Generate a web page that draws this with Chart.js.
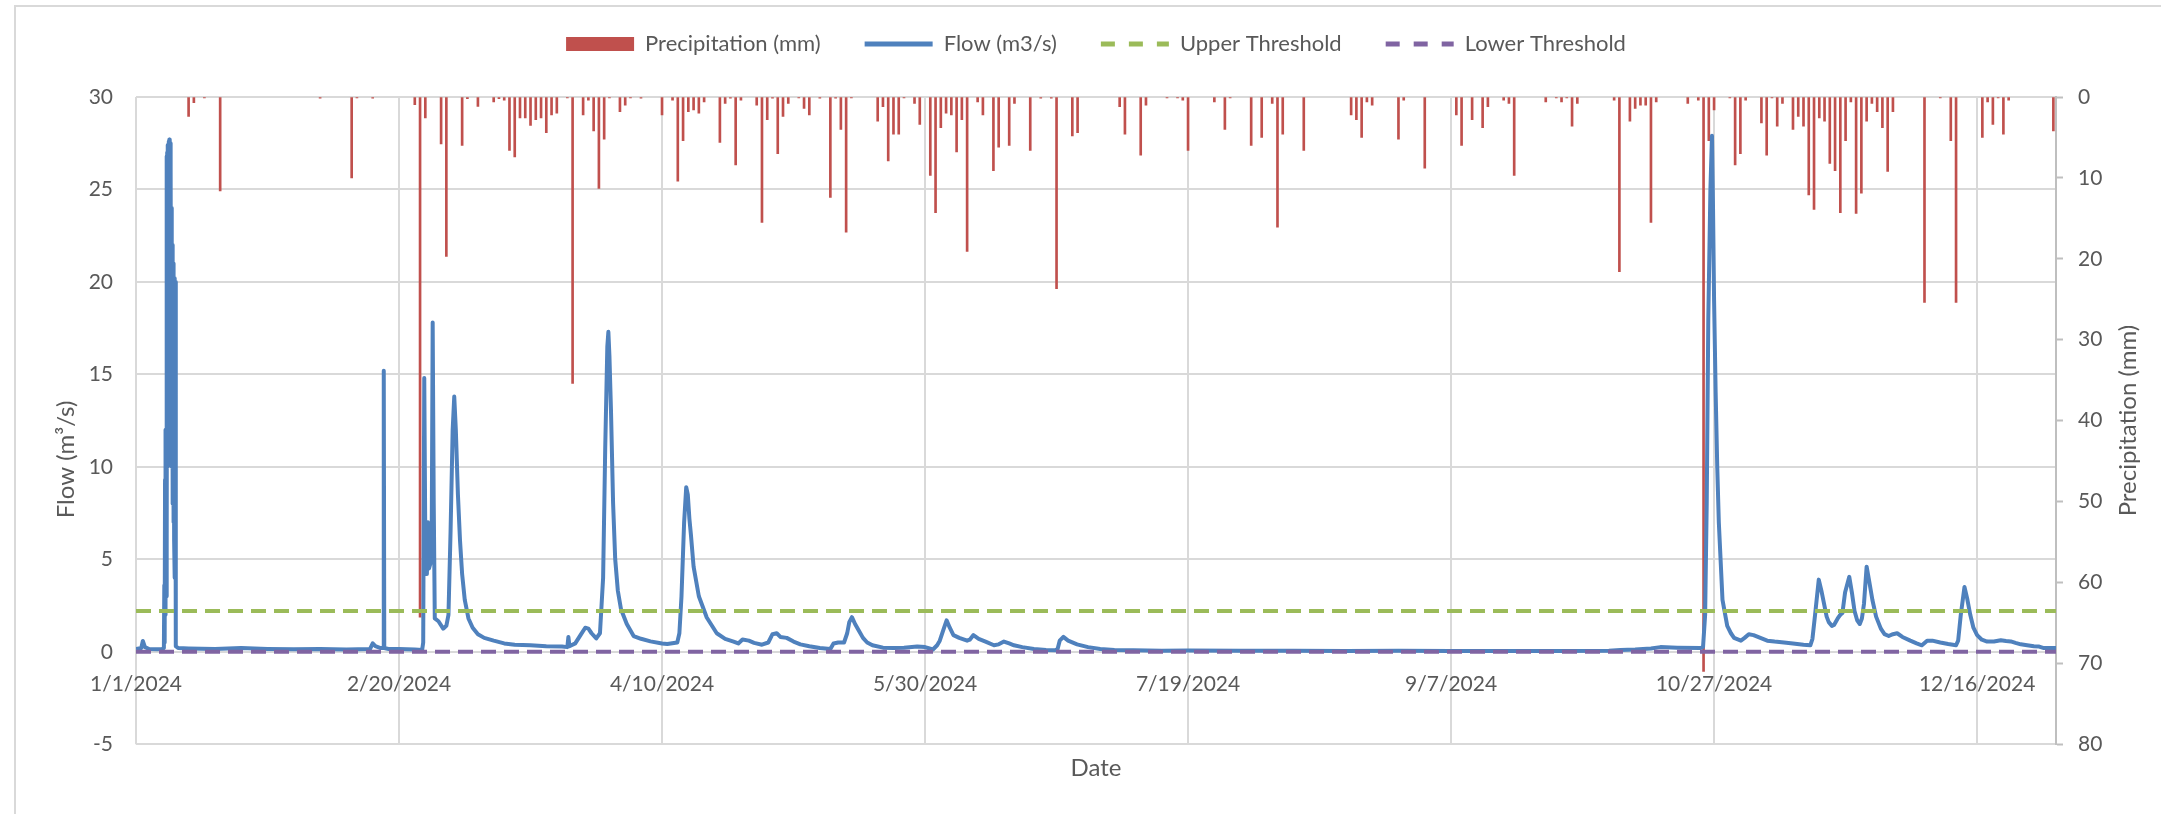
<!DOCTYPE html>
<html lang="en">
<head>
    <meta charset="UTF-8">
    <title>Flow and Precipitation 2024</title>
    <script src="https://cdn.jsdelivr.net/npm/chart.js"></script>
    <style>
        body {
            margin: 0;
            background-color: #ffffff;
            overflow: hidden;
        }

        .frame {
            position: absolute;
            left: 14px;
            top: 5px;
            width: 3000px;
            height: 3000px;
            border: 2px solid #d9d9d9;
        }

        #chart {
            position: absolute;
            left: 0;
            top: 0;
        }
    </style>
</head>
<body>
    <div class="frame"></div>
    <canvas id="chart" width="2161" height="814"></canvas>

    <script>
        // x values are days since 1/1/2024
        const xTickDays = [0, 50, 100, 150, 200, 250, 300, 350];
        const xTickLabels = ['1/1/2024', '2/20/2024', '4/10/2024', '5/30/2024', '7/19/2024', '9/7/2024', '10/27/2024', '12/16/2024'];

        // daily precipitation, [day, mm]
        const precipitation = [
            [10, 2.4], [11, 0.7], [13, 0.1], [16, 11.6], [35, 0.15], [41, 10.0], [42, 0.1], [45, 0.15],
            [53, 0.95], [54, 64.3], [55, 2.6], [58, 5.8], [59, 19.7], [62, 6.0], [63, 0.2], [65, 1.15],
            [68, 0.6], [69, 0.2], [70, 0.4], [71, 6.6], [72, 7.4], [73, 2.6], [74, 2.6], [75, 3.5],
            [76, 2.8], [77, 2.6], [78, 4.4], [79, 2.2], [80, 2.0], [82, 0.1], [83, 35.4], [85, 2.2],
            [86, 0.4], [87, 4.2], [88, 11.3], [89, 5.2], [90, 0.1], [92, 1.8], [93, 1.0], [94, 0.1],
            [96, 0.15], [100, 2.2], [102, 0.4], [103, 10.4], [104, 5.4], [105, 1.8], [106, 1.6], [107, 2.0],
            [108, 0.6], [111, 5.6], [112, 0.8], [113, 0.15], [114, 8.4], [115, 0.4], [118, 1.0], [119, 15.5],
            [120, 2.8], [121, 0.15], [122, 7.0], [123, 2.4], [124, 0.8], [126, 0.1], [127, 1.4], [128, 2.2],
            [130, 0.15], [132, 12.4], [133, 0.15], [134, 4.0], [135, 16.7], [136, 0.1], [141, 3.0], [142, 1.2],
            [143, 7.9], [144, 4.6], [145, 4.6], [146, 0.1], [148, 0.8], [149, 3.4], [151, 9.7], [152, 14.3],
            [153, 3.8], [154, 2.0], [155, 2.2], [156, 6.8], [157, 2.8], [158, 19.1], [160, 0.6], [161, 2.2],
            [163, 9.1], [164, 6.2], [166, 6.0], [167, 0.8], [170, 6.6], [172, 0.15], [174, 0.15], [175, 23.7],
            [178, 4.8], [179, 4.4], [187, 1.2], [188, 4.6], [191, 7.2], [192, 1.0], [196, 0.1], [198, 0.1],
            [199, 0.4], [200, 6.6], [205, 0.6], [207, 4.0], [208, 0.1], [212, 6.0], [214, 5.0], [216, 0.8],
            [217, 16.1], [218, 4.6], [222, 6.6], [231, 2.2], [232, 2.8], [233, 5.0], [234, 0.6], [235, 1.0],
            [240, 5.2], [241, 0.4], [245, 8.8], [251, 2.2], [252, 6.0], [254, 2.8], [256, 3.8], [257, 1.2],
            [260, 0.4], [261, 0.8], [262, 9.7], [268, 0.6], [270, 0.1], [271, 0.6], [272, 0.1], [273, 3.6],
            [274, 0.8], [281, 0.4], [282, 21.6], [284, 3.0], [285, 1.4], [286, 1.0], [287, 1.0], [288, 15.5],
            [289, 0.6], [295, 0.8], [297, 0.4], [298, 71.0], [299, 5.4], [300, 1.6], [303, 0.1], [304, 8.4],
            [305, 7.0], [306, 0.4], [309, 3.2], [310, 7.2], [311, 0.1], [312, 3.6], [313, 0.8], [315, 4.0],
            [316, 2.4], [317, 3.6], [318, 12.1], [319, 13.9], [320, 2.6], [321, 3.0], [322, 8.2], [323, 9.1],
            [324, 14.3], [325, 5.4], [326, 0.6], [327, 14.4], [328, 11.9], [329, 3.0], [330, 0.8], [331, 1.8],
            [332, 3.8], [333, 9.2], [334, 1.8], [340, 25.4], [343, 0.1], [345, 5.4], [346, 25.4], [351, 5.0],
            [352, 0.6], [353, 3.4], [354, 0.1], [355, 4.6], [356, 0.4], [364.5, 4.2]
        ];

        // flow readings, [day, m3/s]
        const flow = [
            [0, 0.15], [1, 0.2], [1.3, 0.58], [1.7, 0.25], [2.5, 0.15], [4, 0.13], [5, 0.15], [5.3, 0.2],
            [5.38, 3.6], [5.45, 0.5], [5.52, 9.3], [5.58, 2], [5.65, 12], [5.72, 3], [5.8, 26.8], [5.87, 6],
            [5.93, 27], [6.0, 10], [6.07, 27.4], [6.14, 12], [6.2, 27.6], [6.27, 15], [6.34, 27.7], [6.41, 16],
            [6.48, 27.5], [6.55, 14], [6.62, 26], [6.69, 12], [6.76, 24], [6.83, 10], [6.9, 22], [6.97, 8],
            [7.04, 21], [7.11, 7], [7.18, 20.3], [7.25, 6], [7.32, 20.2], [7.39, 4], [7.46, 20], [7.53, 2],
            [7.6, 0.3], [8, 0.2], [10, 0.18], [15, 0.15], [20, 0.2], [25, 0.15],
            [30, 0.13], [35, 0.15], [40, 0.12], [44.5, 0.15], [45, 0.45], [45.5, 0.3], [46.5, 0.2], [47, 0.2],
            [47.1, 15.2], [47.2, 0.2], [48, 0.15], [50, 0.15], [53, 0.12], [54.4, 0.1], [54.6, 0.5], [54.8, 14.8],
            [55, 6], [55.3, 4.2], [55.5, 7], [55.7, 4.5], [56.2, 5], [56.4, 17.8], [56.6, 8], [56.8, 1.8],
            [57.5, 1.65], [58.4, 1.25], [59, 1.4], [59.4, 2], [59.8, 6.5], [60.2, 12], [60.5, 13.8], [60.8, 12],
            [61.2, 8.5], [61.6, 6], [62, 4.2], [62.5, 2.8], [63.2, 1.8], [64, 1.3], [65, 0.95], [66.2, 0.75],
            [68, 0.6], [70, 0.45], [72, 0.38], [75, 0.35], [78, 0.3], [81, 0.28], [82, 0.25], [82.2, 0.8],
            [82.4, 0.3], [83.5, 0.45], [84.5, 0.9], [85.4, 1.3], [86, 1.25], [86.6, 1], [87.5, 0.72], [88.2, 1],
            [88.8, 4], [89.2, 11], [89.6, 16.5], [89.8, 17.3], [90, 16], [90.3, 13], [90.7, 8], [91.1, 5],
            [91.6, 3.3], [92.2, 2.3], [93.3, 1.5], [94.6, 0.85], [96, 0.7], [97.8, 0.56], [100, 0.45], [101, 0.42],
            [102.9, 0.5], [103.3, 1], [103.7, 3], [104.2, 7], [104.6, 8.9], [104.9, 8.5], [105.2, 7.2], [105.5, 6.3],
            [106, 4.6], [107, 3], [108.5, 1.85], [110.4, 1], [112, 0.7], [113.6, 0.55], [114.5, 0.45], [115.3, 0.66],
            [116.5, 0.6], [117.5, 0.48], [119, 0.38], [120.2, 0.5], [121, 0.95], [121.8, 1], [122.5, 0.8], [123.7, 0.75],
            [125, 0.55], [126.3, 0.4], [128, 0.3], [130, 0.2], [132, 0.15], [132.6, 0.45], [133.5, 0.5], [134.6, 0.5],
            [135.2, 1], [135.6, 1.6], [136.1, 1.87], [136.7, 1.5], [137.4, 1.15], [138.2, 0.75], [139, 0.5], [140, 0.35],
            [142, 0.22], [144, 0.2], [146, 0.22], [148.5, 0.28], [150, 0.25], [151.5, 0.12], [152.3, 0.35], [152.8, 0.6],
            [153.5, 1.2], [154.1, 1.7], [154.7, 1.3], [155.4, 0.9], [156.5, 0.75], [158, 0.6], [158.5, 0.65], [159.2, 0.9],
            [160.2, 0.7], [161.5, 0.55], [163.1, 0.35], [164, 0.4], [165, 0.55], [166, 0.45], [166.9, 0.35], [168.5, 0.25],
            [170.7, 0.15], [173, 0.1], [174.8, 0.08], [175.2, 0.15], [175.6, 0.6], [176.3, 0.8], [177.2, 0.6], [178.9, 0.4],
            [181, 0.25], [183.3, 0.15], [186, 0.1], [189.6, 0.08], [195, 0.06], [200, 0.07], [210, 0.05], [220, 0.05],
            [230, 0.04], [240, 0.05], [250, 0.04], [260, 0.04], [270, 0.04], [280, 0.06], [282.2, 0.1], [285, 0.12],
            [288, 0.18], [289.8, 0.25], [293, 0.22], [297.4, 0.2], [297.9, 0.25], [298.3, 2], [298.6, 8], [298.9, 18],
            [299.3, 25], [299.6, 27.9], [299.8, 24], [300, 19], [300.3, 14], [300.6, 10], [300.9, 7], [301.2, 5.2],
            [301.6, 2.8], [302.5, 1.4], [303.2, 1], [303.8, 0.75], [305.1, 0.6], [305.8, 0.75], [306.6, 0.95], [307.5, 0.9],
            [308.8, 0.75], [310.1, 0.6], [311.5, 0.55], [313.3, 0.5], [315, 0.45], [317, 0.38], [318.3, 0.35], [318.7, 0.7],
            [319.2, 2], [319.9, 3.9], [320.4, 3.3], [320.9, 2.6], [321.4, 1.9], [321.8, 1.6], [322.4, 1.4], [322.8, 1.45],
            [323.5, 1.8], [324, 2], [324.4, 2.1], [324.9, 3.2], [325.7, 4.05], [326.2, 3.2], [326.7, 2.2], [327.2, 1.7],
            [327.7, 1.5], [328.1, 1.8], [328.5, 2.6], [329, 4.6], [329.5, 3.8], [330.1, 2.8], [330.8, 1.9], [331.7, 1.25],
            [332.4, 0.95], [333.2, 0.85], [334, 0.95], [334.8, 1], [335.8, 0.8], [337.3, 0.6], [338.5, 0.45], [339.5, 0.35],
            [339.9, 0.45], [340.5, 0.6], [341.5, 0.6], [343, 0.5], [344.5, 0.42], [346, 0.35], [346.4, 0.6], [346.9, 2],
            [347.6, 3.5], [348.1, 2.9], [348.7, 2], [349.3, 1.3], [350, 0.9], [350.9, 0.65], [351.9, 0.55], [353.2, 0.55],
            [354.5, 0.62], [355.5, 0.58], [356.4, 0.56], [357.3, 0.48], [358.3, 0.4], [359.5, 0.35], [360.8, 0.3], [361.8, 0.28],
            [362.7, 0.2], [364, 0.2], [365, 0.2]
        ];

        const thresholdDays = [0, 365];
        const upperThreshold = [2.2, 2.2];
        const lowerThreshold = [0.0, 0.0];

        const yTitle = 'Flow (m³/s)';
        const y2Title = 'Precipitation (mm)';
        const xTitle = 'Date';

        const fontFamily = "Lato, 'Liberation Sans', sans-serif";
        Chart.defaults.font.family = fontFamily;
        Chart.defaults.font.size = 21;
        Chart.defaults.color = '#595959';

        // extra room between legend and plot
        const legendGap = {
            id: 'legendGap',
            beforeInit(chart) {
                if (!chart.legend) return;
                const fit = chart.legend.fit;
                chart.legend.fit = function () {
                    fit.call(this);
                    this.height += 32;
                };
            }
        };

        // both vertical titles read bottom-to-top, as in the original
        const sideTitles = {
            id: 'sideTitles',
            afterDraw(chart) {
                const ctx = chart.ctx;
                const area = chart.chartArea;
                const draw = (text, x, y) => {
                    ctx.save();
                    ctx.translate(x, y);
                    ctx.rotate(-Math.PI / 2);
                    ctx.font = '24px ' + fontFamily;
                    ctx.fillStyle = '#595959';
                    ctx.textAlign = 'center';
                    ctx.textBaseline = 'middle';
                    ctx.fillText(text, 0, 0);
                    ctx.restore();
                };
                draw(yTitle, chart.scales.y.left + 17, area.top + (area.bottom - area.top) * 0.56);
                draw(y2Title, chart.scales.y2.right - 16, (area.top + area.bottom) / 2);
            }
        };

        const toPoints = (days, vals) => days.map((d, i) => ({ x: d, y: vals[i] }));

        new Chart(document.getElementById('chart').getContext('2d'), {
            type: 'bar',
            data: {
                datasets: [
                    {
                        type: 'bar',
                        label: 'Precipitation (mm)',
                        data: precipitation.map(p => ({ x: p[0], y: p[1] })),
                        backgroundColor: '#c0504d',
                        borderColor: '#c0504d',
                        barThickness: 2,
                        xAxisID: 'x',
                        yAxisID: 'y2',
                        order: 3
                    },
                    {
                        type: 'line',
                        label: 'Flow (m3/s)',
                        data: flow.map(p => ({ x: p[0], y: p[1] })),
                        borderColor: '#4f81bd',
                        backgroundColor: '#4f81bd',
                        borderWidth: 4,
                        borderJoinStyle: 'round',
                        pointRadius: 0,
                        tension: 0,
                        xAxisID: 'x',
                        yAxisID: 'y',
                        order: 2
                    },
                    {
                        type: 'line',
                        label: 'Upper Threshold',
                        data: toPoints(thresholdDays, upperThreshold),
                        borderColor: '#9bbb59',
                        backgroundColor: '#9bbb59',
                        borderWidth: 4,
                        borderDash: [15, 8],
                        pointRadius: 0,
                        xAxisID: 'x',
                        yAxisID: 'y',
                        order: 1
                    },
                    {
                        type: 'line',
                        label: 'Lower Threshold',
                        data: toPoints(thresholdDays, lowerThreshold),
                        borderColor: '#8064a2',
                        backgroundColor: '#8064a2',
                        borderWidth: 4,
                        borderDash: [15, 8],
                        pointRadius: 0,
                        xAxisID: 'x',
                        yAxisID: 'y',
                        order: 0
                    }
                ]
            },
            options: {
                responsive: false,
                animation: false,
                layout: {
                    padding: { top: -11, left: 49, right: 17, bottom: 27 }
                },
                plugins: {
                    tooltip: { enabled: false },
                    legend: {
                        position: 'top',
                        fullSize: false,
                        labels: {
                            usePointStyle: true,
                            pointStyleWidth: 68,
                            boxHeight: 14,
                            padding: 44,
                            color: '#595959',
                            font: { size: 22 },
                            generateLabels(chart) {
                                return chart.data.datasets.map((ds, i) => ({
                                    text: ds.label,
                                    datasetIndex: i,
                                    fillStyle: ds.backgroundColor,
                                    strokeStyle: ds.borderColor,
                                    lineWidth: ds.type === 'line' ? 5 : 0,
                                    lineDash: ds.borderDash ? [14, 14] : [],
                                    lineCap: 'butt',
                                    pointStyle: ds.type === 'line' ? 'line' : 'rect',
                                    fontColor: '#595959',
                                    hidden: false
                                }));
                            }
                        }
                    }
                },
                scales: {
                    x: {
                        type: 'linear',
                        position: { y: 0 },
                        min: 0,
                        max: 365,
                        offset: false,
                        afterBuildTicks(scale) {
                            scale.ticks = xTickDays.map(v => ({ value: v }));
                        },
                        ticks: {
                            autoSkip: false,
                            maxRotation: 0,
                            padding: 20,
                            color: '#595959',
                            callback: v => xTickLabels[xTickDays.indexOf(v)]
                        },
                        grid: { color: '#d9d9d9', lineWidth: 2, drawTicks: false, offset: false },
                        border: { color: '#d9d9d9', width: 2 }
                    },
                    x2: {
                        type: 'linear',
                        axis: 'x',
                        position: 'bottom',
                        min: 0,
                        max: 365,
                        offset: false,
                        ticks: { display: false },
                        grid: { display: false, drawTicks: false, offset: false },
                        border: { display: false },
                        title: {
                            display: true,
                            text: xTitle,
                            color: '#595959',
                            font: { size: 24 },
                            padding: { top: 10, bottom: 4 }
                        }
                    },
                    y: {
                        type: 'linear',
                        position: 'left',
                        min: -5,
                        max: 30,
                        afterFit(scale) { scale.width = 87; },
                        ticks: { stepSize: 5, padding: 23, color: '#595959' },
                        grid: { color: '#d9d9d9', lineWidth: 2, drawTicks: false },
                        border: { display: false }
                    },
                    y2: {
                        type: 'linear',
                        position: 'right',
                        min: 0,
                        max: 80,
                        reverse: true,
                        afterFit(scale) { scale.width = 88; },
                        ticks: { stepSize: 10, padding: 15, color: '#595959' },
                        grid: {
                            drawOnChartArea: false,
                            drawTicks: true,
                            tickLength: 7,
                            tickColor: '#bfbfbf',
                            tickWidth: 2
                        },
                        border: { display: true, color: '#bfbfbf', width: 2 }
                    }
                }
            },
            plugins: [legendGap, sideTitles]
        });
    </script>
</body>
</html>
